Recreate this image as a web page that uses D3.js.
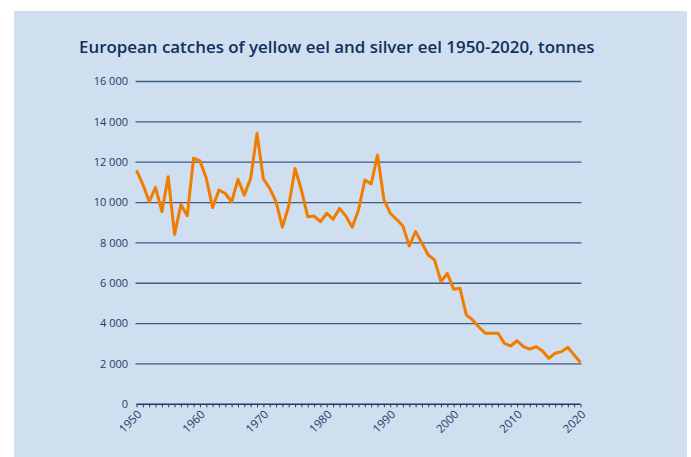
<!DOCTYPE html>
<html>
<head>
<meta charset="utf-8">
<script src="https://cdn.jsdelivr.net/npm/d3@7"></script>
<style>
  html, body { margin: 0; padding: 0; background: #ffffff; }
  svg { display: block; }
</style>
</head>
<body>
<svg id="chart" width="691" height="457"></svg>
<script>
const title = "European catches of yellow eel and silver eel 1950-2020, tonnes";
const years = d3.range(1950, 2021);
const catches = [
  11600, 10900, 10050, 10750, 9550, 11280, 8420, 9900, 9350, 12200,
  12070, 11200, 9750, 10620, 10450, 10040, 11150, 10370, 11200, 13430,
  11170, 10700, 10040, 8780, 9830, 11690, 10620, 9300, 9330, 9050,
  9470, 9170, 9710, 9330, 8780, 9630, 11120, 10920, 12350, 10160,
  9470, 9170, 8840, 7850, 8560, 7980, 7400, 7150, 6080, 6490,
  5700, 5750, 4430, 4180, 3820, 3520, 3520, 3520, 3020, 2890,
  3150, 2860, 2730, 2860, 2640, 2280, 2530, 2610, 2830, 2440,
  2070
];
const yTicks = [0, 2000, 4000, 6000, 8000, 10000, 12000, 14000, 16000];
const xTickLabels = [1950, 1960, 1970, 1980, 1990, 2000, 2010, 2020];

const svg = d3.select("#chart");
const W = 691, H = 457;

// panel background
svg.append("rect").attr("x", 14).attr("y", 11).attr("width", 673).attr("height", H - 11)
  .attr("fill", "#cfdfef");

const x = d3.scaleLinear().domain([1950, 2020]).range([136.5, 580.5]);
const y = d3.scaleLinear().domain([0, 16000]).range([404.3, 81.5]);

// title
svg.append("text")
  .attr("x", 79).attr("y", 53)
  .attr("font-family", "'Open Sans', sans-serif")
  .attr("font-weight", 600)
  .attr("font-size", 16.9)
  .attr("fill", "#0f2f5c")
  .text(title);

// gridlines
svg.append("g").selectAll("line").data(yTicks.filter(d => d > 0)).join("line")
  .attr("x1", x(1950) - 1).attr("x2", x(2020) + 1)
  .attr("y1", d => y(d)).attr("y2", d => y(d))
  .attr("stroke", "#3d5d85").attr("stroke-width", 1.3);

// y labels
svg.append("g").selectAll("text").data(yTicks).join("text")
  .attr("x", 128).attr("y", d => y(d))
  .attr("dy", "0.35em")
  .attr("text-anchor", "end")
  .attr("font-family", "'Open Sans', sans-serif")
  .attr("font-size", 11)
  .attr("fill", "#1c3b66")
  .text(d => d === 0 ? "0" : d3.format(",")(d).replace(",", " "));

// x axis
const xAxis = d3.axisBottom(x)
  .tickValues(years)
  .tickSize(3)
  .tickFormat("");
const gx = svg.append("g").attr("transform", `translate(0,${y(0)})`).call(xAxis);
gx.select(".domain").attr("stroke", "#1c3b66").attr("stroke-width", 1.4).attr("d", `M${x(1950)},0H${x(2020)}`);
gx.selectAll(".tick line").attr("stroke", "#1c3b66").attr("stroke-width", 1);

// x labels rotated
svg.append("g").selectAll("text").data(xTickLabels).join("text")
  .attr("transform", d => `translate(${x(d) + 3},${y(0) + 8}) rotate(-45)`)
  .attr("text-anchor", "end")
  .attr("dy", "0.35em")
  .attr("font-family", "'Open Sans', sans-serif")
  .attr("font-size", 11.5)
  .attr("fill", "#1c3b66")
  .text(d => d);

// line
const line = d3.line().x((d, i) => x(years[i])).y(d => y(d));
svg.append("path").datum(catches)
  .attr("d", line)
  .attr("fill", "none")
  .attr("stroke", "#f07d00")
  .attr("stroke-width", 3)
  .attr("stroke-linejoin", "round");
</script>
</body>
</html>
